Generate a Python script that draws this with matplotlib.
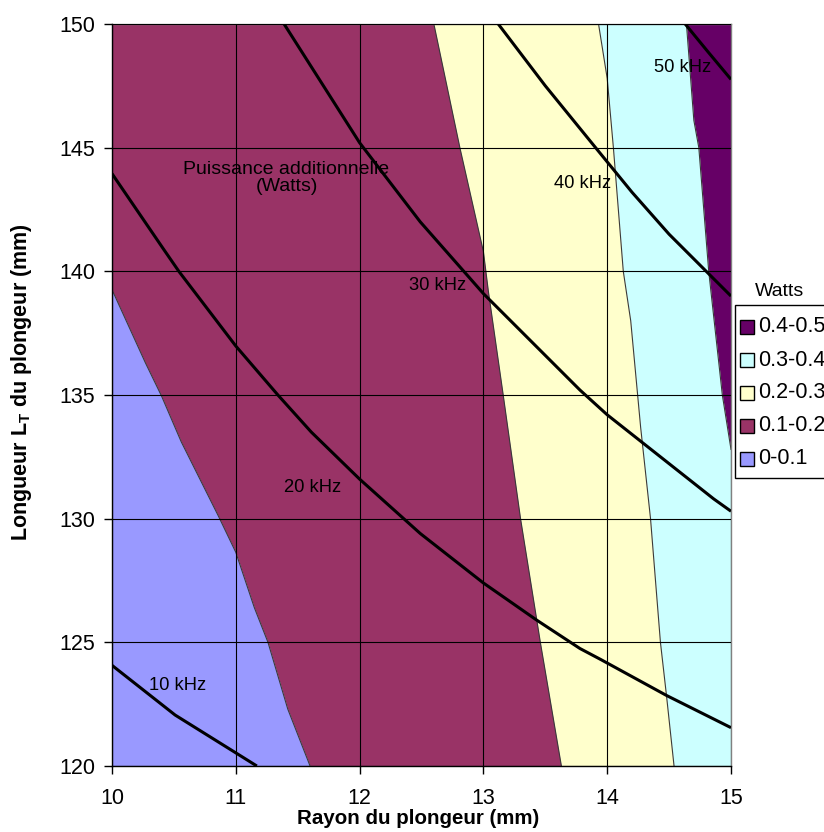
import numpy as np
import matplotlib
matplotlib.use("Agg")
import matplotlib.pyplot as plt
from matplotlib.patches import Rectangle

plt.rcParams['font.family'] = ['Liberation Sans', 'DejaVu Sans']

# ---- data ----
legend_labels = ['0.4-0.5', '0.3-0.4', '0.2-0.3', '0.1-0.2', '0-0.1']
band_colors = ['#9999FF', '#993366', '#FFFFCC', '#CCFFFF', '#660066']  # 0-0.1 ... 0.4-0.5

# region boundaries (x as a function of y)
bnd_01_y = [120, 122.3, 125.0, 126.4, 128.64, 130.1, 133.1, 134.96, 136.3, 139.26]
bnd_01_x = [11.60, 11.42, 11.26, 11.15, 11.0, 10.86, 10.56, 10.40, 10.27, 10.0]
bnd_12_y = [120, 125, 130, 135, 139.2, 140.8, 145, 150]
bnd_12_x = [13.63, 13.46, 13.30, 13.16, 13.04, 13.0, 12.81, 12.60]
bnd_23_y = [120, 122.8, 125, 130, 133.7, 138, 140, 145, 147.8, 150]
bnd_23_x = [14.54, 14.48, 14.43, 14.35, 14.27, 14.19, 14.13, 14.05, 14.0, 13.93]
bnd_34_y = [132.8, 135, 140, 145, 146.1, 150]
bnd_34_x = [15.0, 14.93, 14.82, 14.74, 14.70, 14.64]

# frequency iso-lines
f10_x = [10, 10.51, 11.01, 11.17]
f10_y = [124.07, 122.06, 120.5, 120]
f20_x = [10, 10.42, 10.54, 11, 11.34, 11.61, 12, 12.49, 13, 13.43, 13.78, 13.95, 14.48, 15]
f20_y = [143.95, 140.87, 140, 136.98, 135, 133.5, 131.6, 129.4, 127.4, 125.9, 124.75, 124.3, 122.85, 121.55]
f30_x = [11.39, 12, 12.49, 13, 13.78, 14, 14.86, 15]
f30_y = [150, 145.2, 142.0, 139.1, 135.2, 134.2, 130.8, 130.3]
f40_x = [13.12, 13.5, 13.89, 14.2, 14.5, 14.8, 15]
f40_y = [150, 147.5, 145.1, 143.2, 141.5, 140.0, 139.0]
f50_x = [14.63, 14.81, 15]
f50_y = [150, 148.9, 147.76]

freq_labels = ['10 kHz', '20 kHz', '30 kHz', '40 kHz', '50 kHz']
freq_label_x = [10.53, 11.62, 12.63, 13.80, 14.61]
freq_label_y = [123.27, 131.24, 139.41, 143.57, 148.26]

x_ticks = [10, 11, 12, 13, 14, 15]
y_ticks = [120, 125, 130, 135, 140, 145, 150]

W, H = 824, 832

# ---- figure ----
fig = plt.figure(figsize=(W/100, H/100), dpi=100)
ax = fig.add_axes([112/W, 1-766/H, (731-112)/W, (766-24)/H])

yy = np.linspace(120, 150, 1201)
b0 = np.interp(yy, bnd_01_y, bnd_01_x)
b1 = np.interp(yy, bnd_12_y, bnd_12_x)
b2 = np.interp(yy, bnd_23_y, bnd_23_x)
b3 = np.interp(yy, bnd_34_y, bnd_34_x)
edges = [np.full_like(yy, 10.0), b0, b1, b2, b3, np.full_like(yy, 15.0)]
for i, c in enumerate(band_colors):
    ax.fill_betweenx(yy, edges[i], edges[i+1], color=c, lw=0, zorder=1)

for bx, by in [(bnd_01_x, bnd_01_y), (bnd_12_x, bnd_12_y), (bnd_23_x, bnd_23_y), (bnd_34_x, bnd_34_y)]:
    ax.plot(bx, by, color='#3a3a3a', lw=0.8, zorder=2)

ax.set_xlim(10, 15)
ax.set_ylim(120, 150)
ax.set_xticks(x_ticks)
ax.set_yticks(y_ticks)
ax.grid(True, color='black', lw=0.8, zorder=3)
ax.set_axisbelow(False)

for fx, fy in [(f10_x, f10_y), (f20_x, f20_y), (f30_x, f30_y), (f40_x, f40_y), (f50_x, f50_y)]:
    ax.plot(fx, fy, color='black', lw=2.2, zorder=5, solid_capstyle='butt', solid_joinstyle='round')

for t, x, y in zip(freq_labels, freq_label_x, freq_label_y):
    ax.text(x, y, t, fontsize=13.2, ha='center', va='center', zorder=6)

ax.text(11.41, 143.77, 'Puissance additionnelle\n(Watts)', fontsize=14,
        ha='center', va='center', linespacing=1.05, zorder=6)

for s in ['top', 'right']:
    ax.spines[s].set_color('#808080')
    ax.spines[s].set_linewidth(1)
for s in ['left', 'bottom']:
    ax.spines[s].set_color('black')
    ax.spines[s].set_linewidth(1)
    ax.spines[s].set_zorder(7)

ax.tick_params(axis='both', direction='out', length=6, width=1, labelsize=15.5)
ax.tick_params(axis='y', pad=6)
ax.tick_params(axis='x', pad=10)

ax.set_xlabel('Rayon du plongeur (mm)', fontsize=14.8, fontweight='bold')
ax.set_ylabel('Longueur L$_\\mathregular{T}$ du plongeur (mm)', fontsize=15.5, fontweight='bold')
ax.xaxis.set_label_coords((418-112)/619, -(809-766)/742)
ax.yaxis.set_label_coords((34-112)/619, (766-382)/742)

# legend (drawn manually to match the box)
fig.patches.append(Rectangle((735/W, 1-478/H), 200/W, (478-305)/H, transform=fig.transFigure,
                             facecolor='white', edgecolor='black', lw=1, zorder=10))
row_y = [327, 360, 393, 426, 459]
for lab, c, ry in zip(legend_labels, band_colors[::-1], row_y):
    fig.patches.append(Rectangle((740/W, 1-(ry+7)/H), 14/W, 14/H, transform=fig.transFigure,
                                 facecolor=c, edgecolor='black', lw=1, zorder=11))
    fig.text(758/W, 1-ry/H, lab, fontsize=15.5, ha='left', va='center', zorder=12)
fig.text(780/W, 1-291/H, 'Watts', fontsize=14, ha='center', va='center')

fig.savefig('out.png', dpi=100)
